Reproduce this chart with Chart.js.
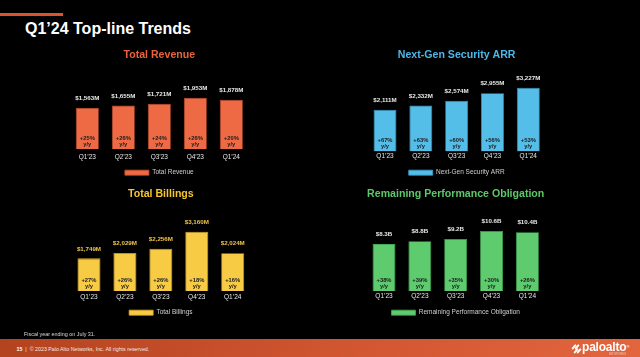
<!DOCTYPE html>
<html>
<head>
<meta charset="utf-8">
<script src="https://cdn.jsdelivr.net/npm/chart.js@4.4.1/dist/chart.umd.min.js"></script>
<style>
html,body{margin:0;padding:0;background:#000;width:640px;height:357px;overflow:hidden;font-family:"Liberation Sans",Arial,sans-serif;}
#page{position:relative;width:640px;height:357px;background:#000;overflow:hidden;}
.accent{position:absolute;left:0;top:12.5px;width:63px;height:3px;background:#D9552D;}
.ptitle{position:absolute;left:25px;top:19.3px;color:#fff;font-weight:bold;font-size:16px;line-height:20px;white-space:nowrap;}
canvas{position:absolute;}
.note{position:absolute;left:24px;top:331px;color:#d8d8d8;font-size:5.4px;line-height:6px;white-space:nowrap;}
.band{position:absolute;left:0;top:338.5px;width:640px;height:19px;background:linear-gradient(90deg,#B4431F 0%,#CF5430 50%,#E2653D 100%);}
.copy{position:absolute;left:16.5px;top:346.3px;color:#f2e6e0;font-size:5.3px;line-height:6px;white-space:nowrap;}
.copy b{font-weight:bold;color:#fff;}
.logo{position:absolute;left:582px;top:340px;color:#fff;font-weight:bold;font-size:12px;line-height:14px;letter-spacing:-0.2px;white-space:nowrap;}
.logosub{position:absolute;left:609px;top:353px;color:#f0d0c4;font-size:2.6px;line-height:3px;letter-spacing:0.3px;white-space:nowrap;}
.ic{position:absolute;width:2.2px;height:6px;background:#fff;border-radius:1px;transform:rotate(40deg);}
</style>
</head>
<body>
<div id="page">
  <div class="accent"></div>
  <div class="ptitle">Q1’24 Top-line Trends</div>
  <canvas id="cRev"></canvas>
  <canvas id="cArr"></canvas>
  <canvas id="cBil"></canvas>
  <canvas id="cRpo"></canvas>
  <div class="note">Fiscal year ending on July 31.</div>
  <div class="band"></div>
  <div class="copy"><b>15</b> &nbsp;|&nbsp; © 2023 Palo Alto Networks, Inc. All rights reserved.</div>
  <div class="ic" style="left:573px;top:344px;"></div>
  <div class="ic" style="left:576px;top:344px;"></div>
  <div class="ic" style="left:574.5px;top:348px;"></div>
  <div class="ic" style="left:577.5px;top:348px;"></div>
  <div class="logo">paloalto<span style="font-size:4px;vertical-align:top;">®</span></div>
  <div class="logosub">NETWORKS</div>
</div>
<script>
// ---------- DATA ----------
const categories = ["Q1’23", "Q2’23", "Q3’23", "Q4’23", "Q1’24"];

const revenueValues = [1563, 1655, 1721, 1953, 1878];
const revenueLabels = ["$1,563M", "$1,655M", "$1,721M", "$1,953M", "$1,878M"];
const revenueGrowth = ["+25%", "+26%", "+24%", "+26%", "+20%"];

const arrValues = [2111, 2332, 2574, 2955, 3227];
const arrLabels = ["$2,111M", "$2,332M", "$2,574M", "$2,955M", "$3,227M"];
const arrGrowth = ["+67%", "+63%", "+60%", "+56%", "+53%"];

const billingsValues = [1749, 2029, 2256, 3160, 2024];
const billingsLabels = ["$1,749M", "$2,029M", "$2,256M", "$3,160M", "$2,024M"];
const billingsGrowth = ["+27%", "+26%", "+26%", "+18%", "+16%"];

const rpoValues = [8.3, 8.8, 9.2, 10.6, 10.4];
const rpoLabels = ["$8.3B", "$8.8B", "$9.2B", "$10.6B", "$10.4B"];
const rpoGrowth = ["+38%", "+39%", "+35%", "+30%", "+26%"];

// ---------- CHARTS ----------
Chart.defaults.font.family = '"Liberation Sans", Arial, sans-serif';
Chart.defaults.color = '#d9d9d9';

const barLabels = {
  id: 'barLabels',
  afterDatasetsDraw(chart, args, opts) {
    const ctx = chart.ctx;
    const meta = chart.getDatasetMeta(0);
    ctx.save();
    ctx.textAlign = 'center';
    ctx.textBaseline = 'middle';
    meta.data.forEach((bar, i) => {
      ctx.font = 'bold 6.2px "Liberation Sans", Arial, sans-serif';
      ctx.fillStyle = opts.valueColor;
      ctx.fillText(opts.values[i], bar.x, bar.y - 9.5);
      ctx.font = 'bold 5.8px "Liberation Sans", Arial, sans-serif';
      ctx.fillStyle = '#1c1c1c';
      ctx.fillText(opts.growth[i], bar.x, bar.base - 11);
      ctx.fillText('y/y', bar.x, bar.base - 4.8);
    });
    ctx.restore();
  }
};

function makeChart(id, cfg) {
  const canvas = document.getElementById(id);
  const left = Math.floor(cfg.areaLeft) - 22;
  const width = Math.ceil(cfg.areaRight) + 22 - left;
  const tickFont = 6.5, tickLH = tickFont * 1.2, legFont = 6.5;
  const titleSize = 10.6, titleLH = titleSize * 1.2;
  const titlePadTop = 4;
  const titlePadBottom = (cfg.areaTop - cfg.top) - titlePadTop - titleLH;
  const needH = cfg.bottom + cfg.tickPad + tickLH + cfg.legPad + legFont + 10 - cfg.top;
  const height = Math.ceil(needH);
  canvas.width = width; canvas.height = height;
  canvas.style.left = left + 'px'; canvas.style.top = cfg.top + 'px';
  canvas.style.width = width + 'px'; canvas.style.height = height + 'px';
  const yMax = cfg.refValue * (cfg.bottom - cfg.areaTop) / cfg.refHeight;
  return new Chart(canvas, {
    type: 'bar',
    data: {
      labels: categories,
      datasets: [{
        label: cfg.legend,
        data: cfg.data,
        backgroundColor: cfg.color,
        borderColor: cfg.border,
        borderWidth: 0.8,
        barPercentage: 0.64,
        categoryPercentage: 1
      }]
    },
    plugins: [barLabels],
    options: {
      responsive: false,
      animation: false,
      devicePixelRatio: 1,
      layout: { padding: { left: cfg.areaLeft - left, right: left + width - cfg.areaRight, top: 0, bottom: height - needH } },
      scales: {
        x: {
          grid: { display: false, drawTicks: false },
          border: { display: false },
          ticks: { color: '#e6e6e6', font: { size: tickFont }, padding: cfg.tickPad, maxRotation: 0 }
        },
        y: { display: false, min: 0, max: yMax }
      },
      plugins: {
        title: {
          display: true, text: cfg.title, color: cfg.titleColor,
          font: { size: titleSize, weight: 'bold' },
          padding: { top: titlePadTop, bottom: titlePadBottom }
        },
        legend: {
          position: 'bottom',
          labels: { boxWidth: 24, boxHeight: 5, padding: cfg.legPad, color: '#d0d0d0', font: { size: legFont } }
        },
        tooltip: { enabled: false },
        barLabels: { values: cfg.labels, growth: cfg.growth, valueColor: cfg.valueColor }
      }
    }
  });
}

makeChart('cRev', {
  areaLeft: 69.3, areaRight: 249.3, top: 45, areaTop: 75, bottom: 153,
  tickPad: 4.1, legPad: 4.5, refValue: 1953, refHeight: 54,
  data: revenueValues, labels: revenueLabels, growth: revenueGrowth,
  title: 'Total Revenue', titleColor: '#E9633C', legend: 'Total Revenue',
  color: '#EE6A45', border: '#C9502D', valueColor: '#e8e8e8'
});
makeChart('cArr', {
  areaLeft: 367.1, areaRight: 546.2, top: 45, areaTop: 75, bottom: 152.7,
  tickPad: 1.1, legPad: 7.8, refValue: 3227, refHeight: 64.7,
  data: arrValues, labels: arrLabels, growth: arrGrowth,
  title: 'Next-Gen Security ARR', titleColor: '#4DB7E7', legend: 'Next-Gen Security ARR',
  color: '#55BEE8', border: '#3B9CC6', valueColor: '#e8e8e8'
});
makeChart('cBil', {
  areaLeft: 71, areaRight: 250.7, top: 184, areaTop: 214, bottom: 293.3,
  tickPad: 2.1, legPad: 6.2, refValue: 3160, refHeight: 61,
  data: billingsValues, labels: billingsLabels, growth: billingsGrowth,
  title: 'Total Billings', titleColor: '#F5C532', legend: 'Total Billings',
  color: '#F8CB45', border: '#D9AA2A', valueColor: '#EFC54A'
});
makeChart('cRpo', {
  areaLeft: 366.1, areaRight: 545.3, top: 184, areaTop: 214, bottom: 292.3,
  tickPad: 1.1, legPad: 8.2, refValue: 10.6, refHeight: 61,
  data: rpoValues, labels: rpoLabels, growth: rpoGrowth,
  title: 'Remaining Performance Obligation', titleColor: '#5CC86A', legend: 'Remaining Performance Obligation',
  color: '#5ECB6E', border: '#43A853', valueColor: '#e8e8e8'
});
</script>
</body>
</html>
